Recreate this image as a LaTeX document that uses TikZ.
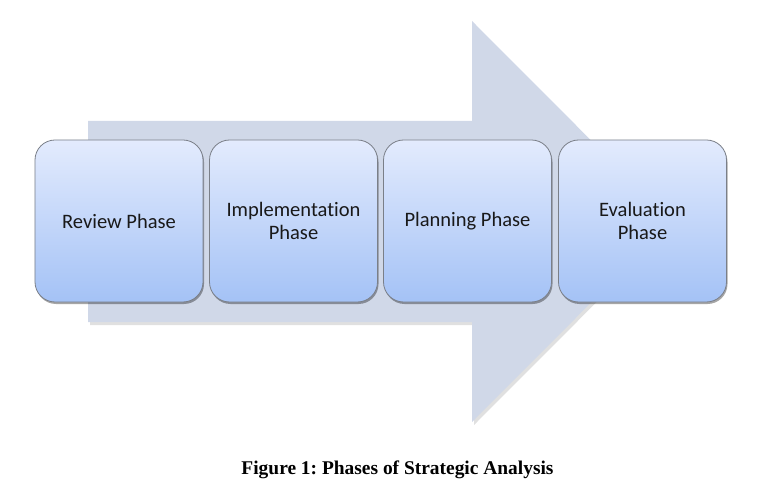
\documentclass[tikz,border=0pt]{standalone}
\usepackage{fontspec}
\setmainfont{Carlito}[Ligatures=NoCommon]
\newfontfamily\capfont{Liberation Serif}
\usetikzlibrary{shadows}
\definecolor{arrowfill}{HTML}{D0D8E8}
\definecolor{boxtop}{HTML}{E3EBFD}
\definecolor{boxbot}{HTML}{A4C2F6}
\definecolor{boxline}{HTML}{7A7F88}
\tikzset{
  phasebox/.style={rounded corners=20bp, draw=boxline, line width=0.8bp,
    top color=boxtop, bottom color=boxbot,
    minimum width=168bp, minimum height=162bp, inner sep=2bp,
    align=center, text=black!90, font=\fontsize{20.6}{23}\selectfont,
    drop shadow={shadow xshift=1bp, shadow yshift=-2bp, opacity=0.35, fill=black}},
  captext/.style={font=\capfont\bfseries\fontsize{19.5}{22}\selectfont, text=black}
}
\frenchspacing
\begin{document}
\begin{tikzpicture}[x=1bp, y=-1bp]
\useasboundingbox (0,0) rectangle (773,494);
% arrow shadow
\fill[black, opacity=0.12] (90,124) -- (474,124) -- (474,24) -- (674,224.5) -- (474,425) -- (474,325) -- (90,325) -- cycle;
% big arrow
\fill[arrowfill] (88,121) -- (472,121) -- (472,21) -- (672,221.5) -- (472,422) -- (472,322) -- (88,322) -- cycle;
% phase boxes
\node[phasebox] (review) at (119,221) {Review Phase};
\node[phasebox] (impl) at (293.5,221) {Implementation\\Phase};
\node[phasebox] (plan) at (467.5,221) {Planning Phase};
\node[phasebox] (eval) at (642.5,221) {Evaluation\\Phase};
% caption
\node[captext] (cap) at (397.5,470) {Figure 1: Phases of Strategic Analysis};
\end{tikzpicture}
\end{document}
